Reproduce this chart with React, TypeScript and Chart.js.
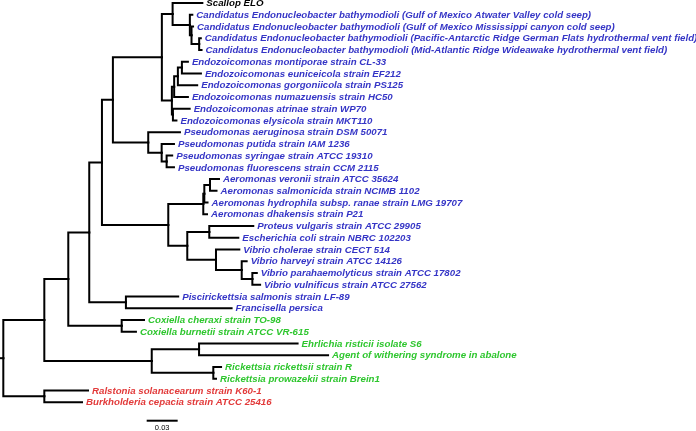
import { useEffect, useRef } from "react";
import { Chart, registerables } from "chart.js";

Chart.register(...registerables);

// ---- Taxa (leaf order top to bottom) ----
const taxa: string[] = [
  "Scallop ELO",
  "Candidatus Endonucleobacter bathymodioli (Gulf of Mexico Atwater Valley cold seep)",
  "Candidatus Endonucleobacter bathymodioli (Gulf of Mexico Mississippi canyon cold seep)",
  "Candidatus Endonucleobacter bathymodioli (Pacific-Antarctic Ridge German Flats hydrothermal vent field)",
  "Candidatus Endonucleobacter bathymodioli (Mid-Atlantic Ridge Wideawake hydrothermal vent field)",
  "Endozoicomonas montiporae strain CL-33",
  "Endozoicomonas euniceicola strain EF212",
  "Endozoicomonas gorgoniicola strain PS125",
  "Endozoicomonas numazuensis strain HC50",
  "Endozoicomonas atrinae strain WP70",
  "Endozoicomonas elysicola strain MKT110",
  "Pseudomonas aeruginosa strain DSM 50071",
  "Pseudomonas putida strain IAM 1236",
  "Pseudomonas syringae strain ATCC 19310",
  "Pseudomonas fluorescens strain CCM 2115",
  "Aeromonas veronii strain ATCC 35624",
  "Aeromonas salmonicida strain NCIMB 1102",
  "Aeromonas hydrophila subsp. ranae strain LMG 19707",
  "Aeromonas dhakensis strain P21",
  "Proteus vulgaris strain ATCC 29905",
  "Escherichia coli strain NBRC 102203",
  "Vibrio cholerae strain CECT 514",
  "Vibrio harveyi strain ATCC 14126",
  "Vibrio parahaemolyticus strain ATCC 17802",
  "Vibrio vulnificus strain ATCC 27562",
  "Piscirickettsia salmonis strain LF-89",
  "Francisella persica",
  "Coxiella cheraxi strain TO-98",
  "Coxiella burnetii strain ATCC VR-615",
  "Ehrlichia risticii isolate S6",
  "Agent of withering syndrome in abalone",
  "Rickettsia rickettsii strain R",
  "Rickettsia prowazekii strain Brein1",
  "Ralstonia solanacearum strain K60-1",
  "Burkholderia cepacia strain ATCC 25416",
];

// group per taxon: 0 = query (black), 1 = blue, 2 = green, 3 = red
const taxonGroup: number[] = [
  0, 1, 1, 1, 1, 1, 1, 1, 1, 1, 1, 1, 1, 1, 1, 1, 1, 1, 1, 1, 1, 1, 1, 1, 1, 1, 1,
  2, 2, 2, 2, 2, 2, 3, 3,
];
const groupColors: string[] = ["#000000", "#3535c6", "#2ec62e", "#e23a3a"];

// ---- Tree (Newick, leaf names = indices into taxa, branch lengths in subst./site) ----
const cladeScallopCand = "(0:0.0288,(1:0.0024,(2:0.0015,(3:0.0016,4:0.0023):0.0074):0.0016):0.0167)";
const cladeEndozoicomonas = "((((5:0.0058,6:0.0184):0.0039,7:0.0187):0.0036,8:0.0133):0.0022,(9:0.0162,10:0.0034):0.0010)";
const cladePseudomonas = "(11:0.0307,(12:0.0119,(13:0.0054,14:0.0071):0.0048):0.0130)";
const cladeAeromonas = "(((15:0.0087,16:0.0063):0.0055,17:0.0031):0.0010,18:0.0036)";
const cladeEnteroVibrio = "((19:0.0426,20:0.0281):0.0213,(21:0.0226,(22:0.0048,(23:0.0043,24:0.0075):0.0103):0.0249):0.0278)";
const cladePiscFranc = "(25:0.0506,26:0.1023)";
const cladeCoxiella = "(27:0.0216,28:0.0138)";
const cladeRickettsiales = "((29:0.0954,30:0.1249):0.0458,(31:0.0075,32:0.0026):0.0596)";
const cladeBeta = "(33:0.0423,34:0.0365)";

const cladeX162 = `(${cladeScallopCand}:0.0104,${cladeEndozoicomonas}:0.0097)`;
const cladeX113 = `(${cladeX162}:0.0474,${cladePseudomonas}:0.0342)`;
const cladeAV = `(${cladeAeromonas}:0.0339,${cladeEnteroVibrio}:0.0184)`;
const cladeX102 = `(${cladeX113}:0.0106,${cladeAV}:0.0642)`;
const cladeX89 = `(${cladeX102}:0.0123,${cladePiscFranc}:0.0355)`;
const cladeX68 = `(${cladeX89}:0.0203,${cladeCoxiella}:0.0517)`;
const cladeIngroup = `(${cladeX68}:0.0232,${cladeRickettsiales}:0.1040)`;
const newick = `(${cladeIngroup}:0.0397,${cladeBeta}:0.0397):0.0032;`;

const scaleBarLength = 0.03;
const scaleBarStart = 0.142;
const scaleBarLabel = "0.03";

type TreeNode = {
  children: TreeNode[];
  length: number;
  leaf?: number;
  x: number;
  y: number;
};

function parseNewick(s: string): TreeNode {
  let i = 0;
  function parseNode(): TreeNode {
    const node: TreeNode = { children: [], length: 0, x: 0, y: 0 };
    if (s[i] === "(") {
      i++;
      node.children.push(parseNode());
      while (s[i] === ",") {
        i++;
        node.children.push(parseNode());
      }
      i++;
    } else {
      let name = "";
      while (i < s.length && !",:);".includes(s[i])) name += s[i++];
      node.leaf = parseInt(name, 10);
    }
    if (s[i] === ":") {
      i++;
      let num = "";
      while (i < s.length && !",);".includes(s[i])) num += s[i++];
      node.length = parseFloat(num);
    }
    return node;
  }
  return parseNode();
}

function layoutTree(root: TreeNode) {
  let row = 0;
  const leaves: TreeNode[] = [];
  const segments: { x: number; y: number }[][] = [];
  function walk(n: TreeNode, parentX: number) {
    n.x = parentX + n.length;
    if (n.children.length === 0) {
      n.y = row++;
      leaves.push(n);
    } else {
      n.children.forEach((c) => walk(c, n.x));
      n.y = (n.children[0].y + n.children[n.children.length - 1].y) / 2;
    }
  }
  walk(root, 0);
  segments.push([
    { x: 0, y: root.y },
    { x: root.x, y: root.y },
  ]);
  function collect(n: TreeNode) {
    n.children.forEach((c) => {
      segments.push([
        { x: n.x, y: n.y },
        { x: n.x, y: c.y },
        { x: c.x, y: c.y },
      ]);
      collect(c);
    });
  }
  collect(root);
  return { leaves, segments };
}

export default function App() {
  const canvasRef = useRef<HTMLCanvasElement | null>(null);

  useEffect(() => {
    if (!canvasRef.current) return;
    const root = parseNewick(newick);
    const { leaves, segments } = layoutTree(root);
    const rows = leaves.length;
    const scaleBarRow = rows + 0.58;
    const scaleLabelRow = rows + 1.2;

    const datasets: any[] = segments.map((seg) => ({
      data: seg,
      showLine: true,
      borderColor: "#000000",
      borderWidth: 2,
      pointRadius: 0,
      pointHoverRadius: 0,
      fill: false,
      borderJoinStyle: "miter",
      borderCapStyle: "square",
    }));
    datasets.push({
      data: [
        { x: scaleBarStart, y: scaleBarRow },
        { x: scaleBarStart + scaleBarLength, y: scaleBarRow },
      ],
      showLine: true,
      borderColor: "#000000",
      borderWidth: 2,
      pointRadius: 0,
      fill: false,
    });

    const labelPlugin = {
      id: "treeLabels",
      afterDatasetsDraw(chart: any) {
        const { ctx, scales } = chart;
        const xs = scales.x;
        const ys = scales.y;
        ctx.save();
        ctx.font = 'italic bold 9.7px "Liberation Sans", Arial, sans-serif';
        ctx.textBaseline = "middle";
        ctx.textAlign = "left";
        leaves.forEach((l) => {
          const idx = l.leaf as number;
          ctx.fillStyle = groupColors[taxonGroup[idx]];
          ctx.fillText(taxa[idx], xs.getPixelForValue(l.x) + 4, ys.getPixelForValue(l.y) + 0.5);
        });
        ctx.font = '7.5px "Liberation Sans", Arial, sans-serif';
        ctx.textAlign = "center";
        ctx.fillStyle = "#000000";
        ctx.fillText(
          scaleBarLabel,
          xs.getPixelForValue(scaleBarStart + scaleBarLength / 2),
          ys.getPixelForValue(scaleLabelRow)
        );
        ctx.restore();
      },
    };

    const chart = new Chart(canvasRef.current, {
      type: "scatter",
      data: { datasets },
      options: {
        animation: false,
        responsive: true,
        maintainAspectRatio: false,
        events: [],
        layout: { padding: 0 },
        plugins: { legend: { display: false }, tooltip: { enabled: false } },
        scales: {
          x: { type: "linear", display: false, min: 0, max: 0.6738 },
          y: { type: "linear", display: false, reverse: true, min: -0.2555, max: 36.457 },
        },
      },
      plugins: [labelPlugin],
    });
    return () => chart.destroy();
  }, []);

  return (
    <div style={{ position: "fixed", left: 0, top: 0, width: 696, height: 431, background: "#ffffff" }}>
      <canvas ref={canvasRef} />
    </div>
  );
}
